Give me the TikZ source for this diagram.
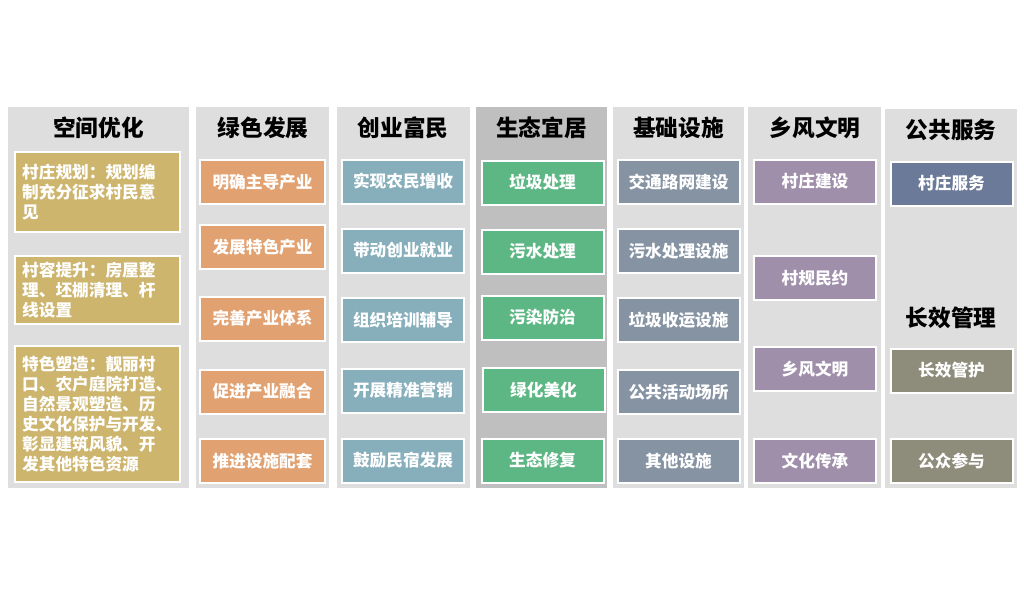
\documentclass[tikz,border=0pt]{standalone}
\usepackage{fontspec}
\setmainfont{Noto Sans CJK SC}
\usepackage{xcolor}
\definecolor{lanegray}{HTML}{DEDEDE}
\definecolor{lanedark}{HTML}{BFBFBF}
\definecolor{gold}{HTML}{CDB56E}
\definecolor{salmon}{HTML}{E1A171}
\definecolor{steelteal}{HTML}{86AEBB}
\definecolor{leafgreen}{HTML}{5DB784}
\definecolor{slate}{HTML}{8593A3}
\definecolor{mauve}{HTML}{A08FAB}
\definecolor{navyblue}{HTML}{6B7A99}
\definecolor{olivegray}{HTML}{8E8C7B}

\begin{document}
\begin{tikzpicture}[x=0.75pt,y=-0.75pt,
  head/.style={font=\fontsize{17}{20}\selectfont\bfseries,text=black,inner sep=0pt},
  item/.style={draw=white,line width=1.5pt,fill=#1,text=white,inner sep=0pt,
    font=\fontsize{12.5}{15}\selectfont\bfseries,minimum width=91.5pt,minimum height=33pt},
  wide/.style={item=gold,minimum width=123.5pt,text width=113pt,align=left}]
\useasboundingbox (0,0) rectangle (1024,600);
% lanes
\fill[lanegray] (8,107) rectangle (189,488);
\fill[lanegray] (196,107) rectangle (329,488);
\fill[lanegray] (337,107) rectangle (470,488);
\fill[lanedark] (476,107) rectangle (607,488);
\fill[lanegray] (613,107) rectangle (744,488);
\fill[lanegray] (748,107) rectangle (881,488);
\fill[lanegray] (885,109) rectangle (1017,488);
% headings
\node[head] (space) at (98.5,128) {空间优化};
\node[head] (green) at (263,128) {绿色发展};
\node[head] (enter) at (403,128) {创业富民};
\node[head] (eco) at (541.5,128) {生态宜居};
\node[head] (infra) at (678.5,128) {基础设施};
\node[head] (civil) at (815,128) {乡风文明};
\node[head] (serve) at (951,130) {公共服务};
\node[head] (manage) at (951,318) {长效管理};
% 空间优化
\node[wide,minimum height=60pt] (plan) at (97.5,192) {村庄规划：规划编\\制充分征求村民意\\见};
\node[wide,minimum height=51pt] (look) at (97.5,290) {村容提升：房屋整\\理、坯棚清理、杆\\线设置};
\node[wide,minimum height=102pt] (feat) at (97.5,414) {特色塑造：靓丽村\\口、农户庭院打造、\\自然景观塑造、历\\史文化保护与开发、\\彰显建筑风貌、开\\发其他特色资源};
% 绿色发展
\node[item=salmon,minimum width=93.5pt] (g1) at (262.5,182) {明确主导产业};
\node[item=salmon,minimum width=93.5pt] (g2) at (262.5,247) {发展特色产业};
\node[item=salmon,minimum width=93.5pt] (g3) at (262.5,318.5) {完善产业体系};
\node[item=salmon,minimum width=93.5pt] (g4) at (262.5,391.5) {促进产业融合};
\node[item=salmon,minimum width=93.5pt] (g5) at (262.5,461) {推进设施配套};
% 创业富民
\node[item=steelteal] (e1) at (403,181.5) {实现农民增收};
\node[item=steelteal] (e2) at (403,250.5) {带动创业就业};
\node[item=steelteal] (e3) at (403,320) {组织培训辅导};
\node[item=steelteal] (e4) at (403,390.5) {开展精准营销};
\node[item=steelteal] (e5) at (403,460.5) {鼓励民宿发展};
% 生态宜居
\node[item=leafgreen] (h1) at (542.5,182.5) {垃圾处理};
\node[item=leafgreen] (h2) at (542.5,251.5) {污水处理};
\node[item=leafgreen] (h3) at (542.5,317.5) {污染防治};
\node[item=leafgreen] (h4) at (543.5,390) {绿化美化};
\node[item=leafgreen] (h5) at (542.5,460.5) {生态修复};
% 基础设施
\node[item=slate] (i1) at (678.5,182) {交通路网建设};
\node[item=slate] (i2) at (678.5,251) {污水处理设施};
\node[item=slate] (i3) at (678.5,320) {垃圾收运设施};
\node[item=slate] (i4) at (678.5,392) {公共活动场所};
\node[item=slate] (i5) at (678.5,461) {其他设施};
% 乡风文明
\node[item=mauve] (c1) at (815,181.5) {村庄建设};
\node[item=mauve] (c2) at (815,278) {村规民约};
\node[item=mauve] (c3) at (815,369) {乡风文明};
\node[item=mauve] (c4) at (815,461) {文化传承};
% 公共服务 / 长效管理
\node[item=navyblue] (s1) at (951.5,183.5) {村庄服务};
\node[item=olivegray] (m1) at (951.5,370.5) {长效管护};
\node[item=olivegray] (m2) at (951.5,461) {公众参与};
\end{tikzpicture}
\end{document}
